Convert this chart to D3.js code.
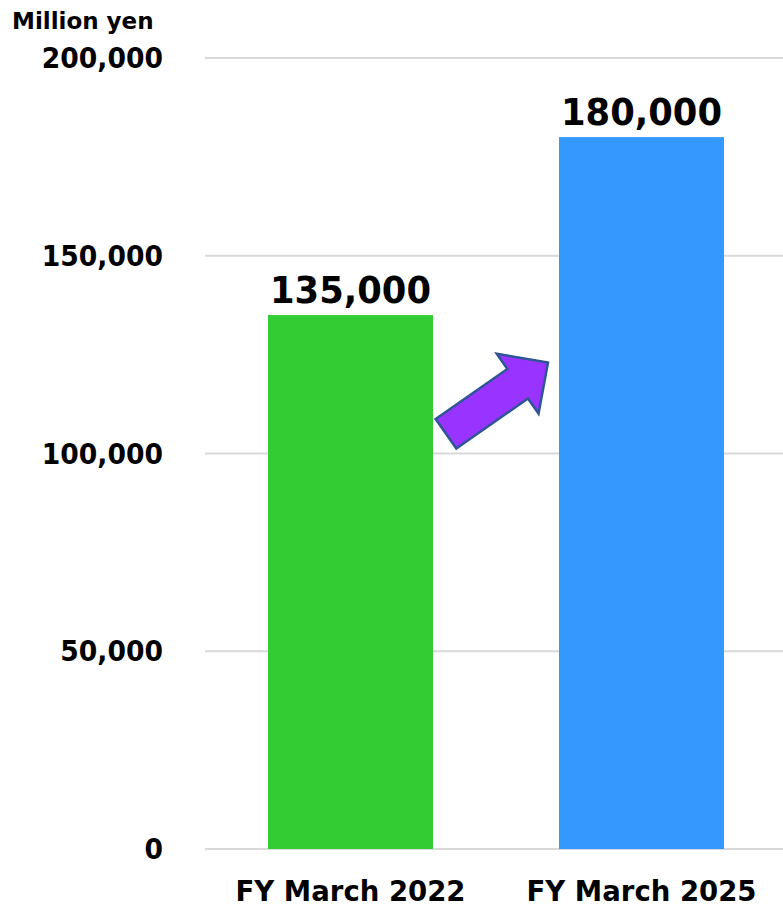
<!DOCTYPE html>
<html>
<head>
<meta charset="utf-8">
<script src="https://cdn.jsdelivr.net/npm/d3@7"></script>
<style>
  html, body { margin: 0; padding: 0; background: #fff; }
  svg { display: block; }
  text { font-family: "DejaVu Sans", Verdana, sans-serif; font-weight: bold; fill: #000; }
</style>
</head>
<body>
<svg id="chart" width="783" height="907"></svg>
<script>
// Sales target data (million yen)
const categories = ["FY March 2022", "FY March 2025"];
const values = [135000, 180000];
const barColors = ["#33CC33", "#3399FF"];
const yTicks = [0, 50000, 100000, 150000, 200000];
const unitLabel = "Million yen";

const W = 783, H = 907;
const svg = d3.select("#chart");

const x = d3.scaleBand()
  .domain(categories)
  .range([205, 787])
  .paddingInner(0.433)
  .paddingOuter(0.2165);

const y = d3.scaleLinear()
  .domain([0, 200000])
  .range([849, 58]);

const fmt = d3.format(",");

// Slightly narrow the glyphs to get a condensed bold look
function condense(sel, factor) {
  sel.each(function () {
    const w = this.getComputedTextLength();
    d3.select(this)
      .attr("textLength", w * factor)
      .attr("lengthAdjust", "spacingAndGlyphs");
  });
}

// Horizontal gridlines
svg.append("g")
  .selectAll("line")
  .data(yTicks)
  .join("line")
  .attr("x1", 205)
  .attr("x2", W)
  .attr("y1", d => y(d))
  .attr("y2", d => y(d))
  .attr("stroke", "#d9d9d9")
  .attr("stroke-width", 2);

// Y axis tick labels
svg.append("g")
  .selectAll("text")
  .data(yTicks)
  .join("text")
  .attr("x", 163)
  .attr("y", d => y(d))
  .attr("dy", "0.36em")
  .attr("text-anchor", "end")
  .style("font-size", "28px")
  .text(d => fmt(d))
  .call(condense, 0.95);

// Unit label
svg.append("text")
  .attr("x", 12)
  .attr("y", 29)
  .style("font-size", "23px")
  .text(unitLabel);

// Bars
const data = categories.map((c, i) => ({ c, v: values[i], color: barColors[i] }));

svg.append("g")
  .selectAll("rect")
  .data(data)
  .join("rect")
  .attr("x", d => x(d.c))
  .attr("width", x.bandwidth())
  .attr("y", d => y(d.v))
  .attr("height", d => y(0) - y(d.v))
  .attr("fill", d => d.color);

// Value labels above bars
svg.append("g")
  .selectAll("text")
  .data(data)
  .join("text")
  .attr("x", d => x(d.c) + x.bandwidth() / 2)
  .attr("y", d => y(d.v) - 12)
  .attr("text-anchor", "middle")
  .style("font-size", "38px")
  .text(d => fmt(d.v))
  .call(condense, 0.93);

// Category labels
svg.append("g")
  .selectAll("text")
  .data(categories)
  .join("text")
  .attr("x", d => x(d) + x.bandwidth() / 2)
  .attr("y", 901)
  .attr("text-anchor", "middle")
  .attr("textLength", 230)
  .attr("lengthAdjust", "spacingAndGlyphs")
  .style("font-size", "29px")
  .text(d => d);

// Growth arrow between the bars
const tail = [x(categories[0]) + x.bandwidth() + 13, y(105000)];
const tip = [x(categories[1]) - 11, y(123000)];
const len = Math.hypot(tip[0] - tail[0], tip[1] - tail[1]);
const ang = Math.atan2(tip[1] - tail[1], tip[0] - tail[0]) * 180 / Math.PI;
const shaftHalf = 18, headHalf = 36.5, headLen = 37;
const arrowPts = [
  [0, -shaftHalf],
  [len - headLen, -shaftHalf],
  [len - headLen, -headHalf],
  [len, 0],
  [len - headLen, headHalf],
  [len - headLen, shaftHalf],
  [0, shaftHalf]
];
svg.append("path")
  .attr("d", d3.line()(arrowPts) + "Z")
  .attr("transform", `translate(${tail[0]},${tail[1]}) rotate(${ang})`)
  .attr("fill", "#9933FF")
  .attr("stroke", "#2F5597")
  .attr("stroke-width", 2.5)
  .attr("stroke-linejoin", "miter");
</script>
</body>
</html>
